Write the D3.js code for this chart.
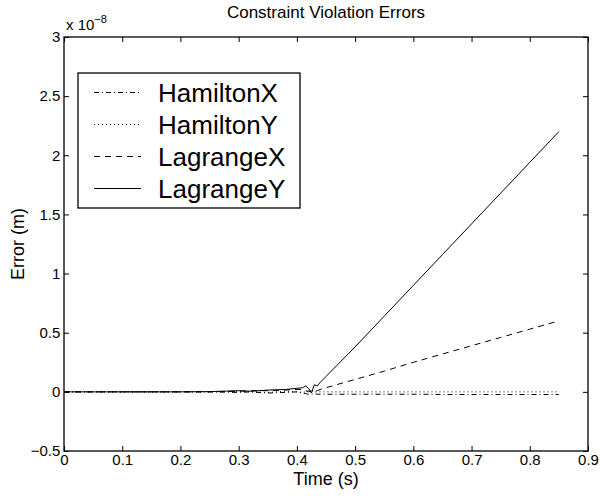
<!DOCTYPE html>
<html>
<head>
<meta charset="utf-8">
<script src="https://cdn.jsdelivr.net/npm/d3@7/dist/d3.min.js"></script>
<style>
  body { margin: 0; background: #fff; }
  text { font-family: "Liberation Sans", Arial, sans-serif; fill: #000; }
</style>
</head>
<body>
<svg id="chart" width="600" height="496"></svg>
<script>
// time samples (s) shared by every series
const time = [0, 0.1, 0.2, 0.25, 0.3, 0.32, 0.35, 0.38, 0.4, 0.41, 0.415, 0.42, 0.425,
  0.43, 0.435, 0.44, 0.45, 0.5, 0.55, 0.6, 0.65, 0.7, 0.75, 0.8, 0.85];

// errors in units of 1e-8 m
const hamiltonX = [0, 0, 0, 0, -0.005, 0, -0.01, -0.005, 0, -0.01, -0.015, -0.02, -0.02,
  -0.015, -0.02, -0.02, -0.02, -0.02, -0.02, -0.02, -0.022, -0.022, -0.022, -0.023, -0.023];
const hamiltonY = [0, 0, 0, 0, 0.005, 0, -0.005, 0.005, 0, -0.005, 0, 0.01, 0.005,
  0, 0, 0, 0, 0, 0, 0, 0, 0, 0, 0, 0];
const lagrangeX = [0, 0, 0, 0, 0.005, 0.01, 0.01, 0.015, 0.02, 0.02, 0.01, 0, 0.01,
  0.005, 0.01, 0.02, 0.035, 0.105, 0.175, 0.25, 0.32, 0.39, 0.46, 0.53, 0.6];
const lagrangeY = [0, 0, 0, 0.002, 0.01, 0.005, 0.015, 0.02, 0.03, 0.035, 0.05, 0.03, -0.01,
  0.06, 0.05, 0.08, 0.13, 0.38, 0.64, 0.9, 1.16, 1.42, 1.68, 1.94, 2.2];

const seriesNames = ["HamiltonX", "HamiltonY", "LagrangeX", "LagrangeY"];
const seriesValues = [hamiltonX, hamiltonY, lagrangeX, lagrangeY];
const dashes = ["5,3,1,3", "1,3", "6,5", null];

const xTicks = [0, 0.1, 0.2, 0.3, 0.4, 0.5, 0.6, 0.7, 0.8, 0.9];
const yTicks = [-0.5, 0, 0.5, 1, 1.5, 2, 2.5, 3];

const svg = d3.select("#chart");
const plotLeft = 64, plotRight = 588, plotTop = 37, plotBottom = 451;

const x = d3.scaleLinear().domain([0, 0.9]).range([plotLeft, plotRight]);
const y = d3.scaleLinear().domain([-0.5, 3]).range([plotBottom, plotTop]);

const tickFmt = d => d === 0 ? "0" : String(d).replace("-", "\u2212");

// axes with inward ticks, mirrored on top and right
svg.append("g")
  .attr("transform", `translate(0,${plotBottom})`)
  .call(d3.axisBottom(x).tickValues(xTicks).tickFormat(tickFmt).tickSizeInner(-5).tickSizeOuter(0).tickPadding(5))
  .call(g => g.selectAll("text").attr("font-size", 15).attr("dy", "0.6em"));
svg.append("g")
  .attr("transform", `translate(0,${plotTop})`)
  .call(d3.axisTop(x).tickValues(xTicks).tickFormat("").tickSizeInner(-5).tickSizeOuter(0));
svg.append("g")
  .attr("transform", `translate(${plotLeft},0)`)
  .call(d3.axisLeft(y).tickValues(yTicks).tickFormat(tickFmt).tickSizeInner(-5).tickSizeOuter(0).tickPadding(6))
  .call(g => g.selectAll("text").attr("font-size", 15).attr("dx", "0.15em"));
svg.append("g")
  .attr("transform", `translate(${plotRight},0)`)
  .call(d3.axisRight(y).tickValues(yTicks).tickFormat("").tickSizeInner(-5).tickSizeOuter(0));

svg.selectAll(".domain").remove();
svg.selectAll(".tick line").attr("stroke", "#000");
svg.append("rect")
  .attr("x", plotLeft).attr("y", plotTop)
  .attr("width", plotRight - plotLeft).attr("height", plotBottom - plotTop)
  .attr("fill", "none").attr("stroke", "#000").attr("stroke-width", 1.3);

// series lines
const line = d3.line()
  .x((d, i) => x(time[i]))
  .y(d => y(d));

svg.append("g")
  .selectAll("path")
  .data(seriesValues)
  .join("path")
    .attr("d", line)
    .attr("fill", "none")
    .attr("stroke", "#000")
    .attr("stroke-width", 1)
    .attr("stroke-dasharray", (d, i) => dashes[i]);

// titles and labels
svg.append("text")
  .attr("x", (plotLeft + plotRight) / 2).attr("y", 18)
  .attr("text-anchor", "middle").attr("font-size", 17)
  .text("Constraint Violation Errors");

const expo = svg.append("text").attr("x", plotLeft + 2).attr("y", 30).attr("font-size", 15);
expo.append("tspan").text("x 10");
expo.append("tspan").attr("dy", -7).attr("font-size", 11).text("\u22128");

svg.append("text")
  .attr("x", (plotLeft + plotRight) / 2).attr("y", 485)
  .attr("text-anchor", "middle").attr("font-size", 18)
  .text("Time (s)");

svg.append("text")
  .attr("transform", `translate(24,${(plotTop + plotBottom) / 2}) rotate(-90)`)
  .attr("text-anchor", "middle").attr("font-size", 18)
  .text("Error (m)");

// legend
const legend = svg.append("g");
legend.append("rect")
  .attr("x", 78).attr("y", 73).attr("width", 222).attr("height", 135)
  .attr("fill", "#fff").attr("stroke", "#000").attr("stroke-width", 1.3);

const rows = legend.selectAll(".row")
  .data(seriesNames)
  .join("g")
    .attr("transform", (d, i) => `translate(0,${92.5 + i * 32})`);
rows.append("line")
  .attr("x1", 94).attr("x2", 141)
  .attr("stroke", "#000").attr("stroke-width", 1)
  .attr("stroke-dasharray", (d, i) => dashes[i]);
rows.append("text")
  .attr("x", 158).attr("y", 9.5)
  .attr("font-size", 26)
  .text(d => d);
</script>
</body>
</html>
